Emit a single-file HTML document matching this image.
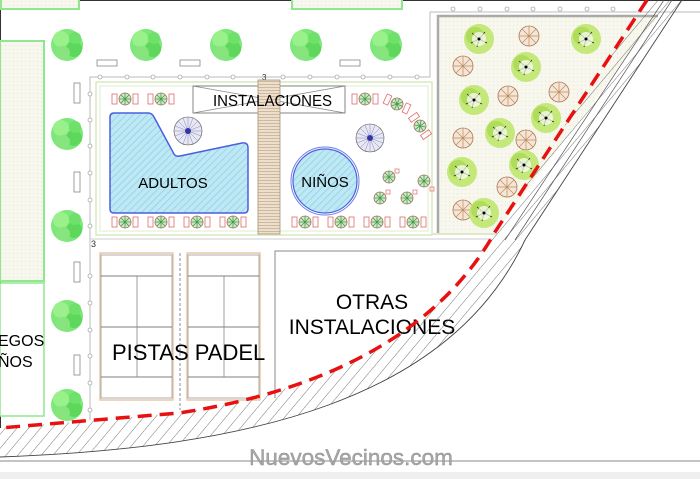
<!DOCTYPE html>
<html><head><meta charset="utf-8"><style>
html,body{margin:0;padding:0;background:#fff;}
svg{display:block;}
text{font-family:"Liberation Sans",Arial,sans-serif;}
</style></head><body>
<svg width="700" height="479" viewBox="0 0 700 479" xmlns="http://www.w3.org/2000/svg">
<defs>
  <pattern id="tex" width="4" height="4" patternUnits="userSpaceOnUse">
    <rect width="4" height="4" fill="#f7f7ee"/><rect x="1" y="1" width="1" height="1" fill="#e6e6d6"/>
  </pattern>
  <pattern id="water" width="5" height="5" patternUnits="userSpaceOnUse" patternTransform="rotate(45)">
    <rect width="5" height="5" fill="#bfe8f4"/><line x1="0" y1="0" x2="0" y2="5" stroke="#7fcbe4" stroke-width="1.2"/>
  </pattern>
  <pattern id="hatch" width="9" height="9" patternUnits="userSpaceOnUse" patternTransform="rotate(40)">
    <line x1="0" y1="0" x2="0" y2="9" stroke="#555" stroke-width="0.8"/>
  </pattern>
  <pattern id="boards" width="4" height="3" patternUnits="userSpaceOnUse">
    <rect width="4" height="3" fill="#eedfcc"/><line x1="0" y1="0.5" x2="4" y2="0.5" stroke="#b89f85" stroke-width="0.6"/>
  </pattern>
  <g id="tree">
    <circle r="16" fill="#7de87a"/>
    <circle cx="-6" cy="-6" r="8" fill="#9af08a"/><circle cx="7" cy="4" r="8" fill="#5ed85c"/>
    <circle cx="-4" cy="8" r="7" fill="#88e47e"/><circle cx="8" cy="-7" r="6" fill="#6fe06a"/>
  </g>
  <g id="umb">
    <circle r="6" fill="#cfe8c8" stroke="#a27060" stroke-width="0.8"/>
    <path d="M-6,0H6M0,-6V6M-4,-4L4,4M4,-4L-4,4" stroke="#4a9a4a" stroke-width="0.8"/>
  </g>
  <g id="set">
    <rect x="-13" y="-5" width="5" height="10" fill="none" stroke="#e06a6a" stroke-width="0.8"/>
    <use href="#umb"/>
    <rect x="8" y="-5" width="5" height="10" fill="none" stroke="#e06a6a" stroke-width="0.8"/>
  </g>
  <g id="ptree">
    <circle r="15" fill="#c4e87a"/><circle cx="-4" cy="-3" r="9" fill="#b0dc5c"/>
    <path d="M0,0L-7,-6M0,0L6,-7M0,0L8,4M0,0L-2,8M0,0L-8,4" stroke="#222" stroke-width="0.8"/>
    <circle r="7" fill="#fff" opacity="0.7"/><circle r="1.5" fill="#000"/>
  </g>
  <g id="btree">
    <circle r="10" fill="#f3e6d6" stroke="#b07850" stroke-width="0.8"/>
    <path d="M-10,0H10M0,-10V10M-7,-7L7,7M7,-7L-7,7" stroke="#c08a60" stroke-width="0.7"/>
  </g>
  <g id="rad">
    <circle r="14" fill="#e8e8f4" stroke="#555" stroke-width="0.6"/>
    <g stroke="#6a6aa8" stroke-width="0.4">
      <path d="M-14,0H14M0,-14V14M-10,-10L10,10M10,-10L-10,10M-13,-5L13,5M-13,5L13,-5M-5,-13L5,13M5,-13L-5,13"/>
    </g>
    <circle r="3" fill="#3333aa"/>
  </g>
</defs>

<rect width="700" height="479" fill="#fff"/>
<line x1="0" y1="0.5" x2="700" y2="0.5" stroke="#333"/>
<line x1="0.5" y1="0" x2="0.5" y2="428" stroke="#333"/>
<rect x="0" y="472" width="700" height="7" fill="#efefef"/>

<rect x="1" y="-2" width="78" height="11" fill="url(#tex)" stroke="#8fe88f" stroke-width="2"/>
<rect x="292" y="-2" width="110" height="11" fill="url(#tex)" stroke="#8fe88f" stroke-width="2"/>
<rect x="0" y="41" width="44" height="240" fill="url(#tex)" stroke="#8fe88f" stroke-width="2"/>
<rect x="0" y="283" width="44" height="133" fill="#fff" stroke="#8fe88f" stroke-width="1.5"/>
<text x="-2" y="346" font-size="16">EGOS</text>
<text x="-2" y="367" font-size="16">ÑOS</text>

<use href="#tree" x="67" y="45"/><use href="#tree" x="146" y="45"/><use href="#tree" x="226" y="45"/>
<use href="#tree" x="306" y="45"/><use href="#tree" x="386" y="45"/>
<use href="#tree" x="67" y="134"/><use href="#tree" x="67" y="226"/><use href="#tree" x="67" y="316"/><use href="#tree" x="67" y="405"/>

<g fill="#fff" stroke="#888" stroke-width="0.8">
<rect x="97" y="60" width="20" height="6"/><rect x="180" y="60" width="20" height="6"/><rect x="340" y="60" width="20" height="6"/>
<rect x="74" y="83" width="6" height="20"/><rect x="74" y="172" width="6" height="20"/><rect x="74" y="262" width="6" height="20"/><rect x="74" y="355" width="6" height="20"/>
</g>

<g fill="none" stroke="#bbb" stroke-width="1">
<path d="M90,420 V77 H430 V12 H700"/>
</g>
<g fill="#fff" stroke="#aaa" stroke-width="0.8">
<circle cx="100" cy="77" r="2"/><circle cx="127" cy="77" r="2"/><circle cx="153" cy="77" r="2"/><circle cx="180" cy="77" r="2"/><circle cx="207" cy="77" r="2"/><circle cx="233" cy="77" r="2"/><circle cx="283" cy="77" r="2"/><circle cx="310" cy="77" r="2"/><circle cx="337" cy="77" r="2"/><circle cx="363" cy="77" r="2"/><circle cx="390" cy="77" r="2"/><circle cx="417" cy="77" r="2"/>
<circle cx="453" cy="9" r="2"/><circle cx="480" cy="9" r="2"/><circle cx="507" cy="9" r="2"/><circle cx="533" cy="9" r="2"/><circle cx="560" cy="9" r="2"/><circle cx="587" cy="9" r="2"/><circle cx="613" cy="9" r="2"/>
<circle cx="90" cy="94" r="2"/><circle cx="90" cy="120" r="2"/><circle cx="90" cy="146" r="2"/><circle cx="90" cy="173" r="2"/><circle cx="90" cy="200" r="2"/><circle cx="90" cy="226" r="2"/><circle cx="90" cy="276" r="2"/><circle cx="90" cy="303" r="2"/><circle cx="90" cy="330" r="2"/><circle cx="90" cy="356" r="2"/><circle cx="90" cy="383" r="2"/><circle cx="90" cy="410" r="2"/>
</g>
<text x="91" y="247" font-size="9" fill="#333">3</text>
<text x="262" y="80" font-size="8" fill="#333">3</text>

<rect x="96" y="82" width="336" height="153" fill="#fff" stroke="#cfe3b0" stroke-width="1.2"/>
<rect x="100" y="86" width="328" height="145" fill="none" stroke="#e2eccf" stroke-width="1"/>
<line x1="90" y1="239" x2="492" y2="239" stroke="#ccc"/>

<path d="M114,113 H148 Q152,113 154,117 L174,154 Q176,157 180,156 L242,143 Q248,142 248,148 V209 Q248,213 244,213 H114 Q110,213 110,209 V117 Q110,113 114,113 Z" fill="url(#water)" stroke="#4a5ee0" stroke-width="1.5"/>
<text x="173" y="188" font-size="15" text-anchor="middle">ADULTOS</text>
<use href="#rad" x="188" y="131"/>
<circle cx="325" cy="181" r="34" fill="none" stroke="#6f7ee8" stroke-width="1"/>
<circle cx="325" cy="181" r="32" fill="url(#water)" stroke="#4a5ee0" stroke-width="1.2"/>
<text x="325" y="187" font-size="15" text-anchor="middle">NIÑOS</text>
<use href="#rad" x="370" y="138"/>

<rect x="193" y="86" width="152" height="27" fill="#fff" stroke="#666" stroke-width="0.8"/>
<path d="M193,86 L345,113 M193,113 L345,86" stroke="#888" stroke-width="0.8"/>
<rect x="258" y="80" width="22" height="154" fill="url(#boards)" stroke="#a89078" stroke-width="0.8"/>
<text x="213" y="106" font-size="16" textLength="119" lengthAdjust="spacingAndGlyphs">INSTALACIONES</text>

<use href="#set" x="125" y="99"/><use href="#set" x="161" y="99"/>
<use href="#set" x="125" y="222"/><use href="#set" x="161" y="222"/><use href="#set" x="197" y="222"/><use href="#set" x="233" y="222"/>
<use href="#set" x="305" y="222"/><use href="#set" x="341" y="222"/><use href="#set" x="377" y="222"/><use href="#set" x="413" y="222"/>
<use href="#set" x="365" y="99"/>
<use href="#set" x="397" y="104" transform="rotate(25 397 104)"/>
<use href="#set" x="420" y="126" transform="rotate(55 420 126)"/>
<use href="#umb" x="389" y="177"/><use href="#umb" x="424" y="181"/><use href="#umb" x="380" y="198"/><use href="#umb" x="407" y="198"/>
<g fill="none" stroke="#e06a6a" stroke-width="0.7">
<rect x="395" y="169" width="4" height="4"/><rect x="430" y="187" width="4" height="4"/><rect x="386" y="190" width="4" height="4"/><rect x="413" y="190" width="4" height="4"/>
</g>

<path d="M438,16 H658 L495,233 H438 Z" fill="url(#tex)"/>
<path d="M438,233 V16 H658" fill="none" stroke="#aaa" stroke-width="2.5"/>
<line x1="432" y1="234" x2="497" y2="234" stroke="#dde8c8" stroke-width="2"/>
<use href="#btree" x="529" y="36"/><use href="#btree" x="463" y="66"/><use href="#btree" x="508" y="96"/><use href="#btree" x="559" y="92"/>
<use href="#btree" x="463" y="138"/><use href="#btree" x="526" y="140"/><use href="#btree" x="507" y="187"/><use href="#btree" x="463" y="210"/>
<use href="#ptree" x="479" y="39"/><use href="#ptree" x="586" y="39"/><use href="#ptree" x="526" y="67"/><use href="#ptree" x="474" y="100"/>
<use href="#ptree" x="546" y="118"/><use href="#ptree" x="500" y="133"/><use href="#ptree" x="524" y="165"/><use href="#ptree" x="462" y="172"/><use href="#ptree" x="484" y="213"/>

<g fill="#fff" stroke="#e8c9a8" stroke-width="1.5">
<rect x="100" y="253" width="73" height="147"/><rect x="187" y="253" width="73" height="147"/>
</g>
<g stroke="#555" stroke-width="0.8" fill="none">
<rect x="101" y="255" width="71" height="143" stroke="#999"/><rect x="188" y="255" width="71" height="143" stroke="#999"/>
<path d="M101,276H172M101,327H172M101,377H172M188,276H259M188,327H259M188,377H259"/>
<path d="M137,276V377M224,276V377" stroke="#888"/>
</g>
<line x1="180" y1="253" x2="180" y2="410" stroke="#889" stroke-dasharray="3,2"/>
<text x="112" y="360" font-size="22">PISTAS PADEL</text>

<path d="M275,398 V251 H482" fill="none" stroke="#888" stroke-width="1"/>
<text x="372" y="309" font-size="21" text-anchor="middle">OTRAS</text>
<text x="372" y="334" font-size="21" text-anchor="middle">INSTALACIONES</text>

<path d="M647,0 L495,232 C440,330 330,390 179,413 L0,428 L0,457 C250,448 450,400 525,240 L682,0 Z" fill="url(#hatch)" stroke="none"/>
<path d="M0,457 C250,448 450,400 525,240 L682,0" fill="none" stroke="#444" stroke-width="0.9"/>
<path d="M664,0 L505,240 M672,0 L515,240" fill="none" stroke="#555" stroke-width="0.7"/>
<path d="M647,0 L495,232 C440,330 330,390 179,413 L0,428" fill="none" stroke="#e81010" stroke-width="3.5" stroke-dasharray="14,8"/>

<line x1="0" y1="461" x2="700" y2="461" stroke="#888" stroke-width="1"/>
<text x="351" y="465" font-size="22.5" text-anchor="middle" fill="#a8a8a8" stroke="#8a8a8a" stroke-width="0.4">NuevosVecinos.com</text>
</svg>
</body></html>
